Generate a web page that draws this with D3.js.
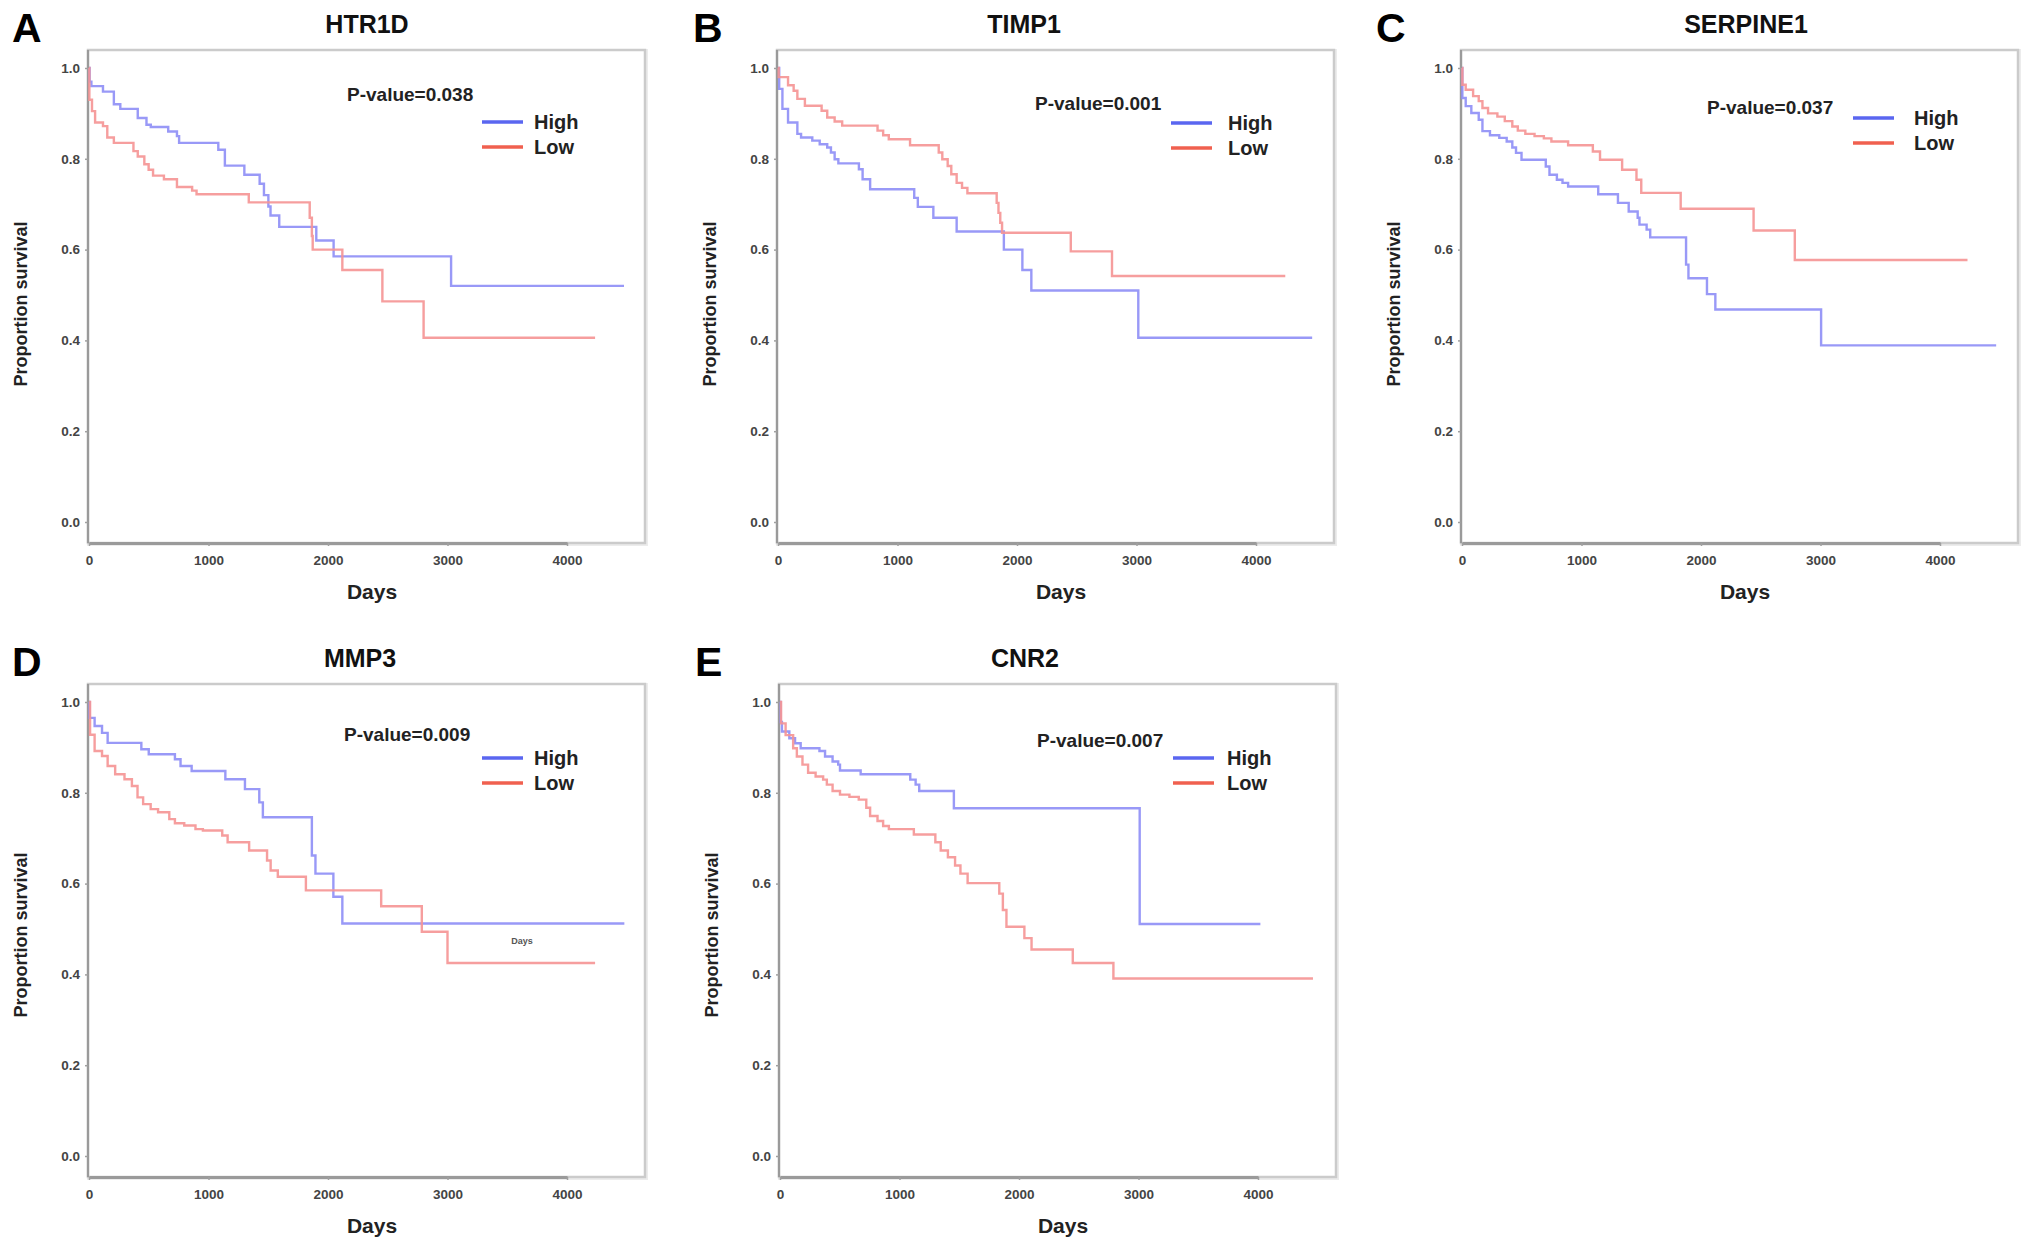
<!DOCTYPE html>
<html>
<head>
<meta charset="utf-8">
<script src="https://cdn.jsdelivr.net/npm/d3@7"></script>
<style>
  html, body { margin: 0; padding: 0; background: #fff; }
  svg { display: block; font-family: "Liberation Sans", Arial, Helvetica, sans-serif; }
</style>
</head>
<body>
<div id="chart"></div>
<script>
// survival curves, [days, proportion surviving] at each step
var htr1dHigh = [[0,1],[5,0.97],[20,0.96],[117,0.948],[208,0.92],[262,0.91],[408,0.89],[481,0.875],[517,0.87],[663,0.86],[736,0.85],[754,0.835],[1082,0.82],[1137,0.785],[1300,0.765],[1428,0.745],[1464,0.72],[1501,0.695],[1519,0.675],[1592,0.65],[1902,0.62],[2047,0.585],[3030,0.52],[4477,0.52]];
var htr1dLow = [[0,1],[3,0.93],[25,0.905],[51,0.88],[117,0.872],[153,0.847],[208,0.835],[372,0.817],[408,0.805],[463,0.788],[499,0.776],[536,0.763],[627,0.755],[736,0.738],[863,0.73],[900,0.722],[1337,0.704],[1847,0.67],[1865,0.63],[1872,0.6],[2120,0.555],[2455,0.486],[2800,0.406],[4235,0.406]];

var timp1High = [[0,1],[10,0.954],[37,0.91],[84,0.88],[162,0.855],[193,0.847],[287,0.84],[349,0.832],[412,0.825],[443,0.814],[474,0.799],[505,0.79],[677,0.777],[708,0.755],[771,0.733],[1140,0.714],[1170,0.694],[1300,0.67],[1495,0.64],[1890,0.6],[2045,0.555],[2120,0.51],[3015,0.406],[4470,0.406]];
var timp1Low = [[0,1],[6,0.98],[84,0.962],[131,0.95],[162,0.932],[225,0.917],[365,0.906],[412,0.891],[474,0.882],[537,0.873],[833,0.862],[880,0.852],[927,0.843],[1105,0.83],[1345,0.814],[1375,0.799],[1420,0.784],[1450,0.766],[1495,0.747],[1540,0.736],[1585,0.724],[1830,0.703],[1845,0.681],[1860,0.659],[1875,0.637],[2450,0.596],[2795,0.542],[4245,0.542]];

var serpine1High = [[0,1],[3,0.934],[31,0.916],[78,0.901],[140,0.886],[171,0.861],[234,0.852],[312,0.846],[374,0.838],[421,0.825],[452,0.813],[498,0.798],[701,0.783],[732,0.765],[794,0.754],[841,0.747],[888,0.739],[1140,0.722],[1305,0.703],[1395,0.684],[1470,0.67],[1485,0.655],[1545,0.644],[1575,0.627],[1875,0.567],[1895,0.537],[2050,0.502],[2120,0.468],[3005,0.389],[4470,0.389]];
var serpine1Low = [[0,1],[3,0.963],[31,0.952],[93,0.938],[140,0.927],[171,0.912],[218,0.9],[296,0.893],[358,0.883],[421,0.871],[467,0.862],[530,0.855],[607,0.85],[685,0.845],[748,0.838],[888,0.83],[1095,0.816],[1155,0.798],[1340,0.776],[1460,0.754],[1500,0.725],[1830,0.69],[2440,0.642],[2785,0.577],[4230,0.577]];

var mmp3High = [[0,1],[5,0.965],[47,0.947],[109,0.932],[156,0.91],[438,0.896],[500,0.885],[719,0.874],[766,0.859],[859,0.848],[1141,0.83],[1305,0.808],[1425,0.779],[1455,0.746],[1865,0.662],[1895,0.622],[2045,0.571],[2120,0.512],[4480,0.512]];
var mmp3Low = [[0,1],[9,0.928],[47,0.892],[109,0.881],[156,0.859],[219,0.841],[297,0.83],[359,0.815],[406,0.79],[453,0.775],[516,0.764],[578,0.757],[672,0.742],[719,0.733],[797,0.728],[891,0.72],[953,0.717],[1115,0.706],[1160,0.691],[1340,0.673],[1490,0.651],[1520,0.629],[1580,0.615],[1815,0.585],[2445,0.55],[2785,0.494],[3000,0.425],[4235,0.425]];

var cnr2High = [[0,1],[5,0.956],[16,0.935],[78,0.92],[126,0.909],[173,0.898],[330,0.892],[377,0.88],[440,0.869],[487,0.862],[502,0.849],[675,0.841],[1090,0.829],[1135,0.818],[1165,0.804],[1455,0.766],[3010,0.511],[4020,0.511]];
var cnr2Low = [[0,1],[9,0.953],[47,0.927],[110,0.898],[141,0.88],[188,0.862],[235,0.844],[298,0.836],[361,0.829],[392,0.818],[440,0.804],[502,0.796],[581,0.791],[659,0.785],[722,0.767],[754,0.749],[816,0.738],[863,0.727],[911,0.72],[1120,0.708],[1300,0.691],[1345,0.673],[1405,0.658],[1465,0.64],[1510,0.622],[1570,0.601],[1835,0.578],[1865,0.542],[1895,0.505],[2045,0.48],[2105,0.455],[2450,0.425],[2790,0.391],[4460,0.391]];

var genes = ["HTR1D", "TIMP1", "SERPINE1", "MMP3", "CNR2"];
var letters = ["A", "B", "C", "D", "E"];
var pValues = ["0.038", "0.001", "0.037", "0.009", "0.007"];
var highCurves = [htr1dHigh, timp1High, serpine1High, mmp3High, cnr2High];
var lowCurves = [htr1dLow, timp1Low, serpine1Low, mmp3Low, cnr2Low];
var dayTicks = [0, 1000, 2000, 3000, 4000];
var survTicks = [0, 0.2, 0.4, 0.6, 0.8, 1.0];
var groupNames = ["High", "Low"];

// layout of each panel (frame box, title, labels)
var panelLayout = [
	{ left: 88,  top: 50,  letterX: 12,   titleX: 279, pX: 259, pY: 51, legY: 72, legX: 394, legTextX: 446 },
	{ left: 777, top: 50,  letterX: 693,  titleX: 247, pX: 258, pY: 60, legY: 73, legX: 394, legTextX: 451 },
	{ left: 1461, top: 50, letterX: 1376, titleX: 285, pX: 246, pY: 64, legY: 68, legX: 392, legTextX: 453 },
	{ left: 88,  top: 684, letterX: 12,   titleX: 272, pX: 256, pY: 57, legY: 74, legX: 394, legTextX: 446 },
	{ left: 779, top: 684, letterX: 695,  titleX: 246, pX: 258, pY: 63, legY: 74, legX: 394, legTextX: 448 }
];

var frameW = 557, frameH = 493;
var curveColors = { High: "#8e8ef6", Low: "#f59393" };
var legendColors = { High: "#5a66f0", Low: "#f0604f" };

var svg = d3.select("#chart").append("svg")
	.attr("width", 2031)
	.attr("height", 1253);

svg.append("rect").attr("width", 2031).attr("height", 1253).attr("fill", "#fff");

var x = d3.scaleLinear().domain([0, 4000]).range([1, 479]);
var y = d3.scaleLinear().domain([0, 1]).range([472, 18]);

var line = d3.line()
	.x(function(d){ return x(d[0]); })
	.y(function(d){ return y(d[1]); })
	.curve(d3.curveStepAfter);

$each(genes, function(g, gene){
	var lay = panelLayout[g];

	// panel letter
	svg.append("text")
		.attr("x", lay.letterX)
		.attr("y", lay.top - 8)
		.attr("font-size", 41)
		.attr("font-weight", "bold")
		.attr("fill", "#000")
		.text(letters[g]);

	var panel = svg.append("g").attr("transform", "translate(" + lay.left + "," + lay.top + ")");

	// title
	panel.append("text")
		.attr("x", lay.titleX)
		.attr("y", -17)
		.attr("text-anchor", "middle")
		.attr("font-size", 25)
		.attr("font-weight", "bold")
		.attr("fill", "#111")
		.text(gene);

	// frame with soft border
	panel.append("rect")
		.attr("x", 1).attr("y", 1)
		.attr("width", frameW).attr("height", frameH)
		.attr("fill", "none")
		.attr("stroke", "#ececec")
		.attr("stroke-width", 4);
	panel.append("rect")
		.attr("width", frameW).attr("height", frameH)
		.attr("fill", "#fff")
		.attr("stroke", "#cbcbcb")
		.attr("stroke-width", 2.5);

	panel.append("line")
		.attr("x1", 0).attr("y1", 0).attr("x2", 0).attr("y2", frameH)
		.attr("stroke", "#9a9a9a").attr("stroke-width", 2.2);

	// axes
	var yAxis = panel.append("g")
		.call(d3.axisLeft(y).tickValues(survTicks).tickFormat(d3.format(".1f")).tickSize(3).tickPadding(5));
	yAxis.select(".domain").remove();

	var xAxis = panel.append("g")
		.attr("transform", "translate(0," + frameH + ")")
		.call(d3.axisBottom(x).tickValues(dayTicks).tickFormat(d3.format("d")).tickSize(3).tickSizeOuter(0).tickPadding(9));
	xAxis.select(".domain").attr("stroke", "#9a9a9a").attr("stroke-width", 2.8);

	panel.selectAll(".tick line").attr("stroke", "#a0a0a0").attr("stroke-width", 1.5);
	panel.selectAll(".tick text")
		.attr("font-family", "'Liberation Sans Narrow', 'Liberation Sans', Arial, sans-serif")
		.attr("font-size", 13.5)
		.attr("font-weight", "bold")
		.attr("fill", "#444");

	// axis titles
	panel.append("text")
		.attr("x", 284)
		.attr("y", 549)
		.attr("text-anchor", "middle")
		.attr("font-size", 21)
		.attr("font-weight", "bold")
		.attr("fill", "#222")
		.text("Days");

	panel.append("text")
		.attr("transform", "translate(-61," + (g < 3 ? 254 : 251) + ") rotate(-90)")
		.attr("text-anchor", "middle")
		.attr("font-size", 18)
		.attr("font-weight", "bold")
		.attr("fill", "#222")
		.text("Proportion survival");

	// curves
	var curves = [highCurves[g], lowCurves[g]];
	$each(curves, function(c, data){
		panel.append("path")
			.datum(data)
			.attr("d", line)
			.attr("fill", "none")
			.attr("stroke", curveColors[groupNames[c]])
			.attr("stroke-width", 2.4)
			.attr("stroke-opacity", 0.9);
	});

	// p-value and legend
	panel.append("text")
		.attr("x", lay.pX)
		.attr("y", lay.pY)
		.attr("font-size", 19)
		.attr("font-weight", "bold")
		.attr("fill", "#222")
		.text("P-value=" + pValues[g]);

	$each(groupNames, function(n, name){
		var ly = lay.legY + n * 25;
		panel.append("line")
			.attr("x1", lay.legX).attr("x2", lay.legX + 41)
			.attr("y1", ly).attr("y2", ly)
			.attr("stroke", legendColors[name])
			.attr("stroke-width", 3.5);
		panel.append("text")
			.attr("x", lay.legTextX)
			.attr("y", ly + 7)
			.attr("font-size", 20)
			.attr("font-weight", "bold")
			.attr("fill", "#222")
			.text(name);
	});

	// stray label left in the MMP3 plot
	if (gene === "MMP3") {
		panel.append("text")
			.attr("x", 434)
			.attr("y", 260)
			.attr("text-anchor", "middle")
			.attr("font-size", 9)
			.attr("font-weight", "bold")
			.attr("fill", "#555")
			.text("Days");
	}
});

function $each(arr, fn){
	arr.forEach(function(d, i){ fn(i, d); });
}
</script>
</body>
</html>
